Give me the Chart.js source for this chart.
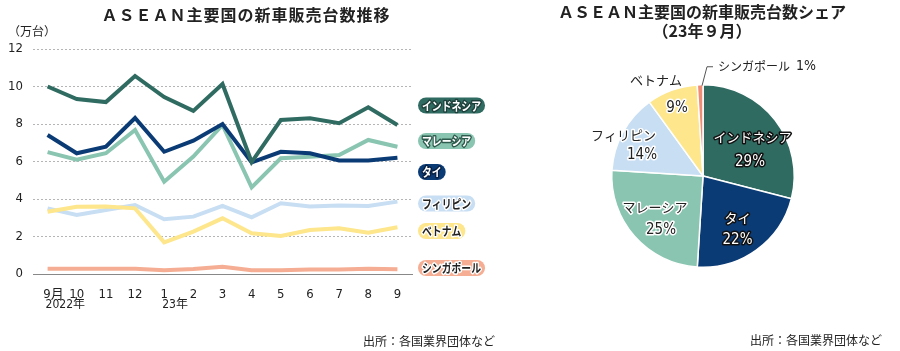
<!DOCTYPE html>
<html lang="ja">
<head>
<meta charset="utf-8">
<script src="https://cdn.jsdelivr.net/npm/chart.js@4"></script>
<style>
  body { margin: 0; background: #fff; }
  #wrap { position: relative; width: 900px; height: 351px; overflow: hidden;
    font-family: "Noto Sans CJK JP", sans-serif; color: #222; }
  .t { position: absolute; white-space: nowrap; }
  .title { font-weight: bold; font-size: 16px; }
  canvas { position: absolute; top: 0; }
</style>
</head>
<body>
<div id="wrap">
  <canvas id="g1" width="520" height="351" style="left:0;width:520px;height:351px"></canvas>
  <canvas id="g2" width="380" height="351" style="left:520px;width:380px;height:351px"></canvas>
  <div class="t title" style="left:0;width:492px;text-align:center;top:2px;letter-spacing:1px">ＡＳＥＡＮ主要国の新車販売台数推移</div>
  <div class="t" style="left:8px;top:22px;font-size:12px">（万台）</div>
  <div class="t" style="left:363px;top:332px;font-size:12px">出所：各国業界団体など</div>
  <div class="t title" style="left:520px;width:364px;text-align:center;top:2px;line-height:19px">ＡＳＥＡＮ主要国の新車販売台数シェア<br>（23年９月）</div>
  <div class="t" style="left:750px;top:331px;font-size:12px">出所：各国業界団体など</div>
</div>
<script>
var months = ['9月', '10', '11', '12', '1', '2', '3', '4', '5', '6', '7', '8', '9'];
var years = ['2022年', '', '', '', '23年', '', '', '', '', '', '', '', ''];

var indonesia = [10.0, 9.33, 9.17, 10.56, 9.44, 8.7, 10.13, 5.97, 8.21, 8.3, 8.04, 8.89, 7.95];
var thailand = [7.41, 6.44, 6.79, 8.32, 6.52, 7.11, 8.0, 5.95, 6.52, 6.44, 6.06, 6.06, 6.2];
var malaysia = [6.5, 6.1, 6.44, 7.68, 4.92, 6.26, 7.95, 4.62, 6.17, 6.25, 6.35, 7.15, 6.79];
var philippines = [3.5, 3.15, 3.41, 3.68, 2.92, 3.06, 3.63, 3.02, 3.77, 3.6, 3.65, 3.63, 3.86];
var vietnam = [3.32, 3.59, 3.6, 3.5, 1.69, 2.26, 2.97, 2.17, 2.03, 2.35, 2.44, 2.2, 2.49];
var singapore = [0.28, 0.28, 0.28, 0.28, 0.2, 0.27, 0.38, 0.2, 0.2, 0.24, 0.24, 0.28, 0.25];

var yTicks = [0, 2, 4, 6, 8, 10, 12];

var shareLabels = ['インドネシア', 'タイ', 'マレーシア', 'フィリピン', 'ベトナム', 'シンガポール'];
var shareValues = [29, 22, 25, 14, 9, 1];

var cIndo = '#306b62', cThai = '#0b3b75', cMala = '#89c5b0',
    cPhil = '#c8def3', cViet = '#fde68c', cSing = '#f5ae93';

var numFont = '"Liberation Sans Narrow", "DejaVu Sans Condensed", "Noto Sans CJK JP", sans-serif';
var jpFont = '"Noto Sans CJK JP", sans-serif';

function outlined(c, txt, x, y, fill, stroke, w) {
  c.lineJoin = 'round';
  c.lineWidth = w;
  c.strokeStyle = stroke;
  c.strokeText(txt, x, y);
  c.fillStyle = fill;
  c.fillText(txt, x, y);
}

// pills on the right of the line chart + year labels
var linePlugin = {
  id: 'linePlugin',
  afterDraw: function (chart) {
    var c = chart.ctx;
    var xs = chart.scales.x;
    c.save();
    c.font = '12px ' + numFont;
    c.fillStyle = '#222';
    c.textAlign = 'left';
    c.textBaseline = 'middle';
    years.forEach(function (y, i) {
      if (y) c.fillText(y, xs.getPixelForTick(i) - 2, 305);
    });

    var pills = [
      { t: 'インドネシア', y: 105.5, bg: cIndo, fg: '#fff', st: '#1d3f3a' },
      { t: 'マレーシア', y: 141, bg: cMala, fg: '#fff', st: '#2e5a4d' },
      { t: 'タイ', y: 172, bg: cThai, fg: '#fff', st: '#061f40' },
      { t: 'フィリピン', y: 203.5, bg: cPhil, fg: '#222', st: '#fff' },
      { t: 'ベトナム', y: 231, bg: cViet, fg: '#222', st: '#fff' },
      { t: 'シンガポール', y: 268, bg: cSing, fg: '#222', st: '#fff' }
    ];
    c.font = 'bold 12px ' + jpFont;
    pills.forEach(function (p) {
      var sx = 0.82;
      var w = c.measureText(p.t).width * sx + 8;
      var h = 16, x = 418, top = p.y - h / 2;
      c.fillStyle = p.bg;
      c.beginPath();
      c.roundRect(x, top, w, h, h / 2);
      c.fill();
      c.save();
      c.translate(x + 4, p.y + 0.5);
      c.scale(sx, 1);
      outlined(c, p.t, 0, 0, p.fg, p.st, 3);
      c.restore();
    });
    c.restore();
  }
};

var ctx = document.getElementById('g1').getContext('2d');
var myChart = new Chart(ctx, {
  type: 'line',
  data: {
    labels: months,
    datasets: [
      { label: 'インドネシア', data: indonesia, borderColor: cIndo },
      { label: 'タイ', data: thailand, borderColor: cThai },
      { label: 'マレーシア', data: malaysia, borderColor: cMala },
      { label: 'ベトナム', data: vietnam, borderColor: cViet },
      { label: 'フィリピン', data: philippines, borderColor: cPhil },
      { label: 'シンガポール', data: singapore, borderColor: cSing }
    ]
  },
  options: {
    responsive: false,
    animation: false,
    events: [],
    elements: {
      line: { borderWidth: 4, tension: 0, borderJoinStyle: 'miter', borderCapStyle: 'butt' },
      point: { radius: 0 }
    },
    layout: { padding: { left: 0, right: 108, top: 49, bottom: 37 } },
    plugins: { legend: { display: false }, tooltip: { enabled: false } },
    scales: {
      x: {
        offset: true,
        grid: { display: false },
        border: { display: true, color: '#888', width: 1 },
        ticks: {
          padding: 5,
          maxRotation: 0,
          autoSkip: false,
          color: '#222',
          font: { family: numFont, size: 13 },
          callback: function (v, i) {
            return i === 0 ? '\u2002\u2002' + months[i] : months[i];
          }
        },
        afterFit: function (s) { s.height = 40; }
      },
      y: {
        min: 0,
        max: 12,
        afterBuildTicks: function (s) {
          s.ticks = yTicks.map(function (v) { return { value: v }; });
        },
        grid: {
          drawTicks: false,
          color: function (c) { return c.tick && c.tick.value === 0 ? 'rgba(0,0,0,0)' : '#b5b5b5'; },
          lineWidth: 1
        },
        border: { display: false, dash: [2, 2] },
        ticks: {
          padding: 10,
          color: '#222',
          font: { family: numFont, size: 13 }
        },
        afterFit: function (s) { s.width = 33; }
      }
    }
  },
  plugins: [linePlugin]
});

// labels inside / outside the pie, placed relative to the pie centre
var piePlugin = {
  id: 'piePlugin',
  afterDatasetsDraw: function (chart) {
    var c = chart.ctx;
    var arc0 = chart.getDatasetMeta(0).data[0].getProps(['x', 'y', 'outerRadius']);
    var cx = arc0.x, cy = arc0.y, R = arc0.outerRadius;
    var spots = [
      { n: [49.5, -39], p: [47, -14], fg: '#fff', st: '#111' },
      { n: [34.5, 42], p: [34.5, 64], fg: '#fff', st: '#111' },
      { n: [-48, 31], p: [-42, 54], fg: '#222', st: '#fff' },
      { n: [-79.5, -41], p: [-61, -21], fg: '#222', st: '#fff' },
      { n: [-47, -96], p: [-26, -68], fg: '#222', st: '#fff' }
    ];
    c.save();
    c.textAlign = 'center';
    c.textBaseline = 'middle';
    spots.forEach(function (s, i) {
      c.font = '13px ' + jpFont;
      if (i === 4) {
        c.fillStyle = '#222';
        c.fillText(shareLabels[i], cx + s.n[0], cy + s.n[1]);
      } else {
        outlined(c, shareLabels[i], cx + s.n[0], cy + s.n[1], s.fg, s.st, 3);
      }
      c.font = '15px ' + numFont;
      outlined(c, shareValues[i] + '%', cx + s.p[0], cy + s.p[1], s.fg, s.st, 3);
    });
    // leader for the small slice
    c.strokeStyle = '#555';
    c.lineWidth = 1;
    c.beginPath();
    c.moveTo(cx - 1, cy - R + 1);
    c.lineTo(cx + 4, cy - R - 18);
    c.lineTo(cx + 10, cy - R - 18);
    c.stroke();
    c.textAlign = 'left';
    c.fillStyle = '#222';
    c.font = '12px ' + jpFont;
    c.fillText(shareLabels[5], cx + 15, cy - R - 18);
    var w = c.measureText(shareLabels[5]).width;
    c.font = '14px ' + numFont;
    c.fillText(shareValues[5] + '%', cx + 15 + w + 6, cy - R - 18);
    c.restore();
  }
};

var ctx2 = document.getElementById('g2').getContext('2d');
var myChart2 = new Chart(ctx2, {
  type: 'pie',
  data: {
    labels: shareLabels,
    datasets: [{
      data: shareValues,
      backgroundColor: [cIndo, cThai, cMala, cPhil, cViet, '#ef8c74'],
      borderColor: '#fff',
      borderWidth: 1.5
    }]
  },
  options: {
    responsive: false,
    animation: false,
    events: [],
    layout: { padding: { left: 91, right: 105, top: 84, bottom: 83 } },
    plugins: { legend: { display: false }, tooltip: { enabled: false } }
  },
  plugins: [piePlugin]
});
</script>
</body>
</html>
